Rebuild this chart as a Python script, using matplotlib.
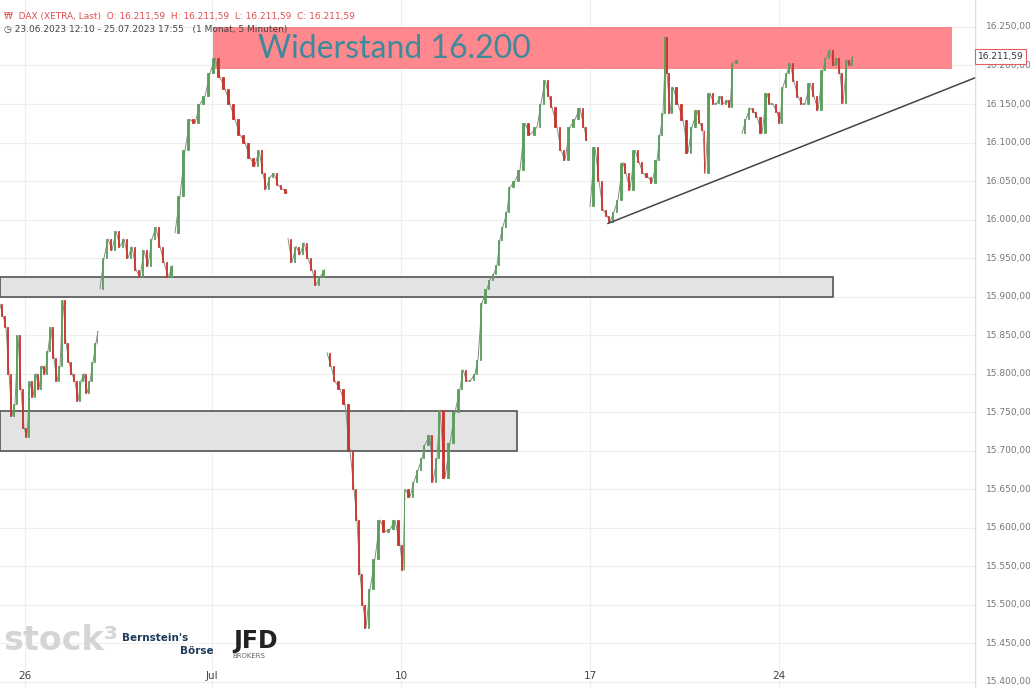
import matplotlib.pyplot as plt
from matplotlib.patches import Rectangle

# waypoints: (pixel x, price); segments split at data gaps
seg_a = [(0, 15890), (3, 15875), (6, 15860), (9, 15800), (12, 15745), (15, 15760), (18, 15850),
         (21, 15780), (24, 15730), (27, 15718), (30, 15790), (33, 15770), (36, 15800), (39, 15780),
         (42, 15810), (45, 15800), (48, 15830), (51, 15860), (54, 15820), (57, 15790), (60, 15810),
         (63, 15895), (66, 15840), (69, 15815), (72, 15800), (75, 15790), (78, 15765), (81, 15790),
         (84, 15800), (87, 15775), (90, 15790), (93, 15815), (96, 15840), (98, 15855)]
seg_b = [(100, 15910), (104, 15950), (108, 15975), (112, 15960), (116, 15985), (120, 15965),
         (124, 15975), (128, 15950), (132, 15965), (136, 15935), (140, 15925), (144, 15960),
         (148, 15940), (152, 15975), (156, 15990), (160, 15965), (164, 15945), (168, 15925),
         (173, 15940)]
seg_c = [(175, 15983), (180, 16030), (185, 16090), (190, 16130), (195, 16125), (200, 16150),
         (205, 16160), (210, 16190), (215, 16210), (220, 16185), (225, 16170), (230, 16150),
         (235, 16130), (240, 16110), (245, 16100), (250, 16080), (255, 16070), (259, 16090),
         (263, 16060), (266, 16040), (270, 16055), (274, 16060), (278, 16045), (282, 16040),
         (287, 16035)]
seg_d = [(288, 15975), (292, 15945), (296, 15965), (300, 15955), (304, 15970), (308, 15950),
         (312, 15935), (316, 15915), (320, 15925), (325, 15935)]
seg_e = [(327, 15827), (331, 15810), (335, 15790), (340, 15780), (345, 15760), (350, 15700),
         (354, 15650), (357, 15610), (360, 15540), (363, 15500), (366, 15470), (370, 15520),
         (375, 15560), (380, 15610), (385, 15595), (390, 15598), (395, 15610), (400, 15578),
         (403, 15545), (405, 15650), (410, 15640), (414, 15660), (418, 15675), (422, 15690),
         (425, 15708), (430, 15720), (433, 15660), (437, 15690), (440, 15753), (445, 15665),
         (450, 15710), (455, 15750), (460, 15780), (463, 15805), (467, 15790), (471, 15792),
         (475, 15800), (478, 15818), (482, 15892), (487, 15910), (490, 15922), (494, 15930),
         (497, 15941), (500, 15974), (503, 15991), (507, 16010), (510, 16042), (515, 16050),
         (520, 16064), (525, 16125), (530, 16110), (537, 16120), (541, 16150), (545, 16181),
         (549, 16160), (552, 16146), (557, 16120), (561, 16090), (565, 16077), (570, 16120),
         (575, 16130), (580, 16145), (584, 16120), (587, 16103)]
seg_f = [(590, 16017), (595, 16094), (599, 16050), (603, 16013), (607, 16005), (610, 15997),
         (614, 16010), (618, 16026), (623, 16074), (626, 16060), (630, 16039), (635, 16090),
         (639, 16075), (643, 16060), (648, 16055), (652, 16048), (657, 16077), (660, 16110),
         (663, 16138), (666, 16237), (667, 16190), (670, 16138), (673, 16172), (678, 16150),
         (683, 16129), (688, 16087), (692, 16120), (697, 16142), (700, 16125), (703, 16116),
         (705, 16060), (710, 16164), (714, 16150), (717, 16151), (720, 16160), (723, 16150),
         (727, 16155), (730, 16146), (733, 16203), (738, 16207)]
seg_g = [(742, 16112), (746, 16130), (750, 16145), (754, 16140), (757, 16133), (762, 16112),
         (767, 16164), (770, 16150), (773, 16150), (777, 16140), (780, 16125), (783, 16172),
         (787, 16190), (790, 16203), (794, 16180), (798, 16159), (802, 16150), (805, 16150),
         (810, 16177), (814, 16160), (818, 16142), (823, 16194), (826, 16210), (830, 16220),
         (834, 16200), (837, 16210), (840, 16190), (843, 16151), (847, 16207), (850, 16200),
         (853, 16211.59)]
segments = [seg_a, seg_b, seg_c, seg_d, seg_e, seg_f, seg_g]

tick_px = [25, 212, 401, 590, 779]
tick_labels = ['26', 'Jul', '10', '17', '24']
y_ticks = list(range(15400, 16251, 50))


def px(x):
    return (x - 25) / 27.0


fig = plt.figure(figsize=(10.30, 6.88), dpi=100)
ax = fig.add_axes([0, 0, 975 / 1030, 1])
ax.set_xlim(px(0), px(975))
ax.set_ylim(15392, 16285)

for t in y_ticks:
    ax.axhline(t, color='#eeeeee', lw=0.8, zorder=0)
for t in tick_px:
    ax.axvline(px(t), color='#eeeeee', lw=0.8, zorder=0)

for seg in segments:
    ax.plot([px(p[0]) for p in seg], [p[1] for p in seg], color='#8a8a8a', lw=0.7, zorder=2)
    for i in range(1, len(seg)):
        x0, o = seg[i - 1]
        x1, c = seg[i]
        col = '#5a9e5a' if c >= o else '#c8352b'
        w = (x1 - x0) / 27.0
        ax.add_patch(Rectangle((px(x1) - w * 0.6, min(o, c)), w * 0.3, max(abs(c - o), 1),
                               facecolor=col, edgecolor=col, lw=0.6, zorder=3))

# zones
ax.add_patch(Rectangle((px(213), 16196), px(952) - px(213), 54, facecolor='#ff7b82',
                       alpha=0.9, edgecolor='none', zorder=1))
ax.text(px(258), 16222, 'Widerstand 16.200', color='#3d8a9c', fontsize=23,
        family='Lato', va='center', zorder=4)
ax.add_patch(Rectangle((px(0), 15900), px(833) - px(0), 26, facecolor='#e3e3e3',
                       edgecolor='#555555', lw=1.2, zorder=1))
ax.add_patch(Rectangle((px(0), 15699), px(517) - px(0), 52, facecolor='#e3e3e3',
                       edgecolor='#555555', lw=1.2, zorder=1))
ax.plot([px(608), px(975)], [15995, 16184], color='#444444', lw=1.1, zorder=4)

for s in ['top', 'right', 'bottom', 'left']:
    ax.spines[s].set_visible(False)
ax.tick_params(length=0)
ax.set_xticks([px(t) for t in tick_px])
ax.set_xticklabels(tick_labels, fontsize=7.5, color='#444444')
ax.tick_params(axis='x', pad=-12)
ax.set_yticks([])

# right price axis
rax = fig.add_axes([975 / 1030, 0, 55 / 1030, 1])
rax.set_ylim(15392, 16285)
rax.set_xlim(0, 1)
rax.axis('off')
for t in y_ticks:
    lab = '{:,.2f}'.format(t).replace(',', 'X').replace('.', ',').replace('X', '.')
    rax.text(0.2, t, lab, fontsize=6.5, color='#777777', va='center')
rax.plot([0, 0], [15392, 16285], color='#dddddd', lw=1)
rax.text(0.05, 16211.59, '16.211,59', fontsize=6.5, color='#333333', va='center',
         bbox=dict(boxstyle='square,pad=0.3', fc='white', ec='#e06060', lw=0.8))

# header
fig.text(0.004, 0.972, '₩  DAX (XETRA, Last)  O: 16.211,59  H: 16.211,59  L: 16.211,59  C: 16.211,59',
         fontsize=6.5, color='#e05050')
fig.text(0.004, 0.953, '◷ 23.06.2023 12:10 - 25.07.2023 17:55   (1 Monat, 5 Minuten)',
         fontsize=6.5, color='#444444')

# logos
fig.text(0.003, 0.055, 'stock³', fontsize=24, color='#d5d5d5', weight='bold')
fig.text(0.118, 0.068, "Bernstein's", fontsize=7.5, color='#1f3a5a', weight='bold')
fig.text(0.175, 0.050, 'Börse', fontsize=7.5, color='#1f3a5a', weight='bold')
fig.text(0.226, 0.058, 'JFD', fontsize=17, color='#222222', weight='bold')
fig.text(0.226, 0.043, 'BROKERS', fontsize=5, color='#666666')

fig.savefig('out.png', dpi=100)
